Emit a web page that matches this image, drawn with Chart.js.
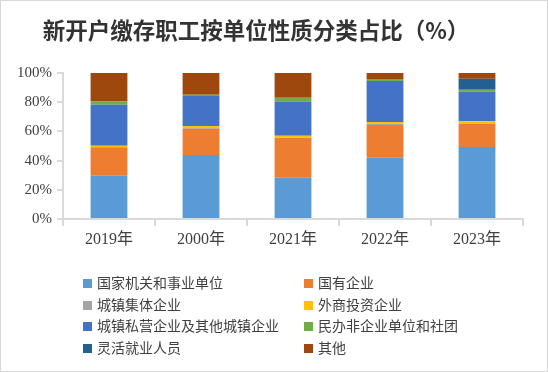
<!DOCTYPE html>
<html>
<head>
<meta charset="utf-8">
<script src="https://cdn.jsdelivr.net/npm/chart.js@4/dist/chart.umd.min.js"></script>
<style>
    html, body { margin: 0; padding: 0; background: #fff; }
    #wrap {
        position: relative;
        width: 548px;
        height: 372px;
        box-sizing: border-box;
        border: 1px solid #d9d9d9;
    }
    #wrap canvas { position: absolute; left: -1px; top: -1px; }
    #legend {
        position: absolute;
        left: 82px;
        top: 271px;
        width: 420px;
        font-family: "Noto Sans CJK SC", sans-serif;
        font-size: 14px;
        color: #404040;
    }
    .item {
        position: absolute;
        height: 20px;
        line-height: 20px;
        white-space: nowrap;
    }
    .item span.box {
        display: inline-block;
        width: 9px;
        height: 9px;
        margin-right: 5px;
        vertical-align: 0px;
    }
</style>
</head>
<body>
<div id="wrap">
    <canvas id="myChart" width="548" height="372"></canvas>
    <div id="legend"></div>
</div>
<script>
// 数据
const years = ['2019年', '2000年', '2021年', '2022年', '2023年'];
const seriesNames = [
    '国家机关和事业单位', '国有企业', '城镇集体企业', '外商投资企业',
    '城镇私营企业及其他城镇企业', '民办非企业单位和社团', '灵活就业人员', '其他'
];
const govt      = [29.7, 43.8, 28.3, 42.0, 49.3];
const stateOwn  = [19.4, 18.0, 27.2, 22.4, 16.0];
const collective = [0.2, 0.5, 0.2, 0.9, 0.2];
const foreign   = [0.9, 1.4, 1.4, 1.1, 1.4];
const privateCo = [28.1, 20.5, 23.3, 28.1, 20.3];
const nonProfit = [2.1, 0.9, 2.7, 1.4, 1.4];
const flexible  = [0, 0, 0, 0, 7.5];
const others    = [19.6, 14.9, 16.9, 4.1, 3.9];
const yTicks = [0, 20, 40, 60, 80, 100];

const seriesData = [govt, stateOwn, collective, foreign, privateCo, nonProfit, flexible, others];
const colors = ['#5B9BD5', '#ED7D31', '#A5A5A5', '#FFC000', '#4472C4', '#70AD47', '#255E91', '#9E480E'];

const axisColor = '#d9d9d9';

// title drawn off-centre like the original
const titlePlugin = {
    id: 'titleText',
    afterDraw(chart) {
        const ctx = chart.ctx;
        ctx.save();
        ctx.font = 'bold 22.5px "Noto Sans CJK SC", sans-serif';
        ctx.fillStyle = '#333333';
        ctx.textAlign = 'center';
        ctx.textBaseline = 'middle';
        ctx.fillText('新开户缴存职工按单位性质分类占比（%）', 256, 30);
        ctx.restore();
    }
};

const ctx = document.getElementById('myChart').getContext('2d');
const chart = new Chart(ctx, {
    type: 'bar',
    data: {
        labels: years,
        datasets: seriesNames.map((name, i) => ({
            label: name,
            data: seriesData[i],
            backgroundColor: colors[i],
            borderWidth: 0,
            barPercentage: 0.8,
            categoryPercentage: 0.5
        }))
    },
    options: {
        responsive: false,
        animation: false,
        devicePixelRatio: 1,
        layout: {
            padding: { left: 0, top: 73, right: 25, bottom: 113 }
        },
        plugins: {
            legend: { display: false },
            title: { display: false },
            tooltip: { enabled: false }
        },
        scales: {
            x: {
                stacked: true,
                grid: {
                    offset: true,
                    drawOnChartArea: false,
                    drawTicks: true,
                    tickLength: 7,
                    color: axisColor,
                    lineWidth: 2
                },
                border: { color: axisColor, width: 2 },
                ticks: {
                    color: '#404040',
                    font: { family: '"Liberation Serif", "Noto Sans CJK SC", serif', size: 16 },
                    padding: 4
                },
                afterFit: (scale) => { scale.height = 40; }
            },
            y: {
                stacked: true,
                min: 0,
                max: 100,
                grid: {
                    drawOnChartArea: false,
                    drawTicks: true,
                    tickLength: 6,
                    color: axisColor,
                    lineWidth: 2
                },
                border: { color: axisColor, width: 2 },
                ticks: {
                    stepSize: 20,
                    color: '#404040',
                    padding: 5,
                    font: { family: '"Liberation Serif", serif', size: 15 },
                    callback: (v) => yTicks.includes(v) ? v + '%' : ''
                },
                afterFit: (scale) => { scale.width = 63; }
            }
        }
    },
    plugins: [titlePlugin]
});

// two-column legend
const legend = document.getElementById('legend');
seriesNames.forEach((name, i) => {
    const item = document.createElement('div');
    item.className = 'item';
    item.style.left = (i % 2 === 0 ? 0 : 221) + 'px';
    item.style.top = (Math.floor(i / 2) * 21.7) + 'px';
    item.innerHTML = '<span class="box" style="background:' + colors[i] + '"></span>' + name;
    legend.appendChild(item);
});
</script>
</body>
</html>
